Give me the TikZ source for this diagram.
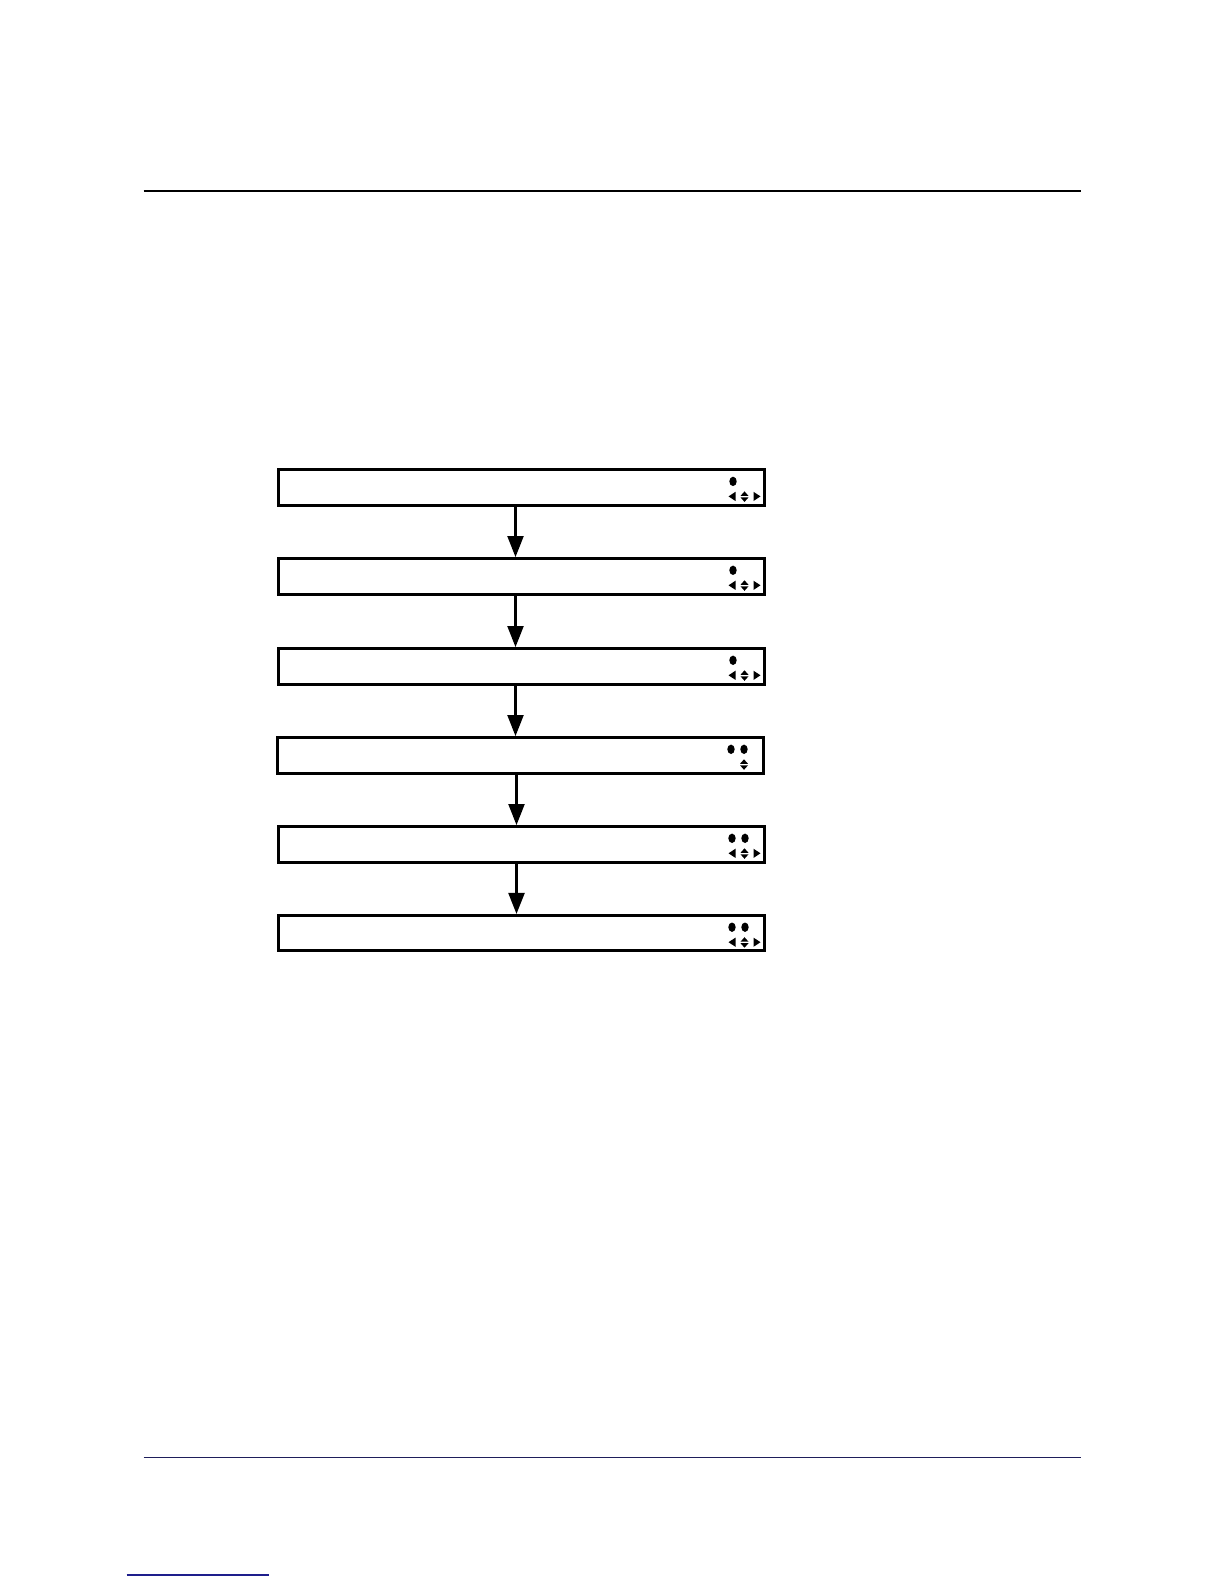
\documentclass[tikz,border=0pt]{standalone}
\usepackage{tikz}
\usetikzlibrary{arrows.meta}
\definecolor{rulenavy}{RGB}{30,30,90}
\definecolor{linknavy}{RGB}{30,30,140}

\begin{document}
\begin{tikzpicture}[x=1bp,y=-1bp,
  screen/.style={draw,line width=3bp,minimum width=486bp,minimum height=35.5bp,inner sep=0pt},
  flow/.style={line width=2.2bp,-{Triangle[width=16bp,length=21bp]}}]
\useasboundingbox (0,0) rectangle (1224,1584);
\fill[white] (0,0) rectangle (1224,1584);
\draw[line width=1.3bp] (143.6,191.1) -- (1080.9,191.1);
\draw[line width=0.9bp,rulenavy] (143.6,1457) -- (1080.9,1457);
\draw[line width=1.3bp,linknavy] (126.7,1575) -- (269,1575);

\node[screen] (s1) at (521.5,487.4) {};
\node[screen] (s2) at (521.5,576.3) {};
\node[screen] (s3) at (521.5,666.3) {};
\node[screen] (s4) at (520.5,755.3) {};
\node[screen] (s5) at (521.5,844.3) {};
\node[screen] (s6) at (521.5,933.2) {};

\draw[flow] ([xshift=-6bp]s1.south) -- ([xshift=-6bp]s1.south |- s2.north);
\draw[flow] ([xshift=-6bp]s2.south) -- ([xshift=-6bp]s2.south |- s3.north);
\draw[flow] ([xshift=-6bp]s3.south) -- ([xshift=-6bp]s3.south |- s4.north);
\draw[flow] ([xshift=-4bp]s4.south) -- ([xshift=-4bp]s4.south |- s5.north);
\draw[flow] ([xshift=-5bp]s5.south) -- ([xshift=-5bp]s5.south |- s6.north);

% one dot on the first three screens, two on the rest
\foreach \s in {s1,s2,s3}
  \fill ([shift={(-33,-6)}]\s.east) ellipse (3.7 and 4.7);
\foreach \s in {s4,s5,s6} {
  \fill ([shift={(-34,-6)}]\s.east) ellipse (3.7 and 4.7);
  \fill ([shift={(-21,-6)}]\s.east) ellipse (3.7 and 4.7);
}
% left, up/down and right keys
\foreach \s in {s1,s2,s3,s5,s6} {
  \fill ([shift={(-30.5,4.4)}]\s.east) -- ++(0,9.2) -- ++(-7,-4.6) -- cycle;
  \fill ([shift={(-21.5,4)}]\s.east) -- ++(-4,4.5) -- ++(8,0) -- cycle;
  \fill ([shift={(-25.5,10)}]\s.east) -- ++(8,0) -- ++(-4,4.5) -- cycle;
  \fill ([shift={(-12.5,4.4)}]\s.east) -- ++(0,9.2) -- ++(7,-4.6) -- cycle;
}
\fill ([shift={(-21,4)}]s4.east) -- ++(-4,4.5) -- ++(8,0) -- cycle;
\fill ([shift={(-25,10)}]s4.east) -- ++(8,0) -- ++(-4,4.5) -- cycle;

\end{tikzpicture}
\end{document}
